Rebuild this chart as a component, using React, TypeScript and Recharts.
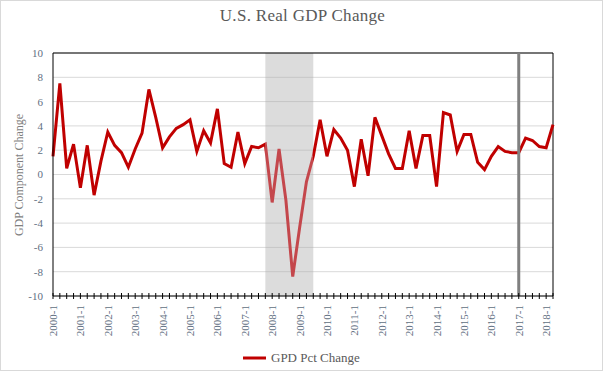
import React from 'react';
import { LineChart, Line, XAxis, YAxis, CartesianGrid, ReferenceArea, ReferenceLine } from 'recharts';

const years = [2000, 2001, 2002, 2003, 2004, 2005, 2006, 2007, 2008, 2009, 2010, 2011, 2012, 2013, 2014, 2015, 2016, 2017, 2018];
const quarters = [1, 2, 3, 4];

const gdp2000 = [1.5, 7.5, 0.5, 2.5];
const gdp2001 = [-1.1, 2.4, -1.7, 1.1];
const gdp2002 = [3.5, 2.4, 1.8, 0.6];
const gdp2003 = [2.1, 3.4, 7.0, 4.7];
const gdp2004 = [2.2, 3.1, 3.8, 4.1];
const gdp2005 = [4.5, 1.9, 3.6, 2.6];
const gdp2006 = [5.4, 0.9, 0.6, 3.5];
const gdp2007 = [0.9, 2.3, 2.2, 2.5];
const gdp2008 = [-2.3, 2.1, -2.1, -8.4];
const gdp2009 = [-4.4, -0.6, 1.5, 4.5];
const gdp2010 = [1.5, 3.7, 3.0, 2.0];
const gdp2011 = [-1.0, 2.9, -0.1, 4.7];
const gdp2012 = [3.2, 1.7, 0.5, 0.5];
const gdp2013 = [3.6, 0.5, 3.2, 3.2];
const gdp2014 = [-1.0, 5.1, 4.9, 1.9];
const gdp2015 = [3.3, 3.3, 1.0, 0.4];
const gdp2016 = [1.5, 2.3, 1.9, 1.8];
const gdp2017 = [1.8, 3.0, 2.8, 2.3];
const gdp2018 = [2.2, 4.1];

const gdpByYear = [gdp2000, gdp2001, gdp2002, gdp2003, gdp2004, gdp2005, gdp2006, gdp2007, gdp2008, gdp2009,
  gdp2010, gdp2011, gdp2012, gdp2013, gdp2014, gdp2015, gdp2016, gdp2017, gdp2018];

const yTicks = [-10, -8, -6, -4, -2, 0, 2, 4, 6, 8, 10];

const recessionStart = '2007-4';
const recessionEnd = '2009-3';
const markerQuarter = '2017-1';
const seriesName = 'GPD Pct Change';
const title = 'U.S. Real GDP Change';
const yLabel = 'GDP Component Change';

const data: { q: string; v: number }[] = [];
years.forEach((y, i) => {
  gdpByYear[i].forEach((v, j) => {
    data.push({ q: `${y}-${quarters[j]}`, v });
  });
});
const lastQuarter = data[data.length - 1].q;

const FONT = '"Liberation Serif", "Times New Roman", serif';
const TICK_COLOR = '#5f6f82';
const LINE_RED = '#c00000';
const LINE_SHADED = '#c4474c';

const CHART_W = 605;
const CHART_H = 379;
const MARGIN = { top: 53, right: 52, left: 13, bottom: 0 };
const Y_AXIS_W = 40;
const plotLeft = MARGIN.left + Y_AXIS_W;
const plotRight = CHART_W - MARGIN.right;

const idxStart = data.findIndex((d) => d.q === recessionStart);
const idxEnd = data.findIndex((d) => d.q === recessionEnd);
const offStart = idxStart / (data.length - 1);
const offEnd = idxEnd / (data.length - 1);

const XTick = (props: any) => {
  const { x, y, payload } = props;
  const label: string = payload.value;
  const showLabel = label.endsWith('-1');
  return (
    <g>
      <line x1={x} x2={x} y1={y - 3} y2={y + 3} stroke="#000" strokeWidth={1} />
      {showLabel && (
        <text
          transform={`translate(${x + 4},${y + 9}) rotate(-90)`}
          textAnchor="end"
          fontSize={11}
          fontFamily={FONT}
          fill={TICK_COLOR}
        >
          {label}
        </text>
      )}
    </g>
  );
};

export default function App() {
  return (
    <div style={{ position: 'absolute', left: 0, top: 0, width: CHART_W, height: CHART_H, background: '#fff' }}>
      <div style={{ position: 'absolute', left: 0, top: 0, width: 603, height: 371, border: '1px solid #d9d9d9', boxSizing: 'border-box' }} />
      <div style={{ position: 'absolute', left: 0, top: 6, width: CHART_W, textAlign: 'center', fontFamily: FONT, fontSize: 17, color: '#595959', letterSpacing: 0.3 }}>
        {title}
      </div>
      <div style={{ position: 'absolute', left: 19, top: 175, transform: 'translate(-50%,-50%) rotate(-90deg)', whiteSpace: 'nowrap', fontFamily: FONT, fontSize: 12, color: '#7f7f7f' }}>
        {yLabel}
      </div>
      <LineChart width={CHART_W} height={CHART_H} data={data} margin={MARGIN}>
        <defs>
          <linearGradient id="gdpStroke" gradientUnits="userSpaceOnUse" x1={plotLeft} x2={plotRight} y1={0} y2={0}>
            <stop offset={0} stopColor={LINE_RED} />
            <stop offset={offStart} stopColor={LINE_RED} />
            <stop offset={offStart} stopColor={LINE_SHADED} />
            <stop offset={offEnd} stopColor={LINE_SHADED} />
            <stop offset={offEnd} stopColor={LINE_RED} />
            <stop offset={1} stopColor={LINE_RED} />
          </linearGradient>
        </defs>
        <CartesianGrid horizontal vertical={false} stroke="#d9d9d9" />
        <ReferenceArea x1={recessionStart} x2={recessionEnd} fill="#aaaaaa" fillOpacity={0.41} stroke="none" />
        <XAxis
          dataKey="q"
          interval={0}
          tickSize={0}
          tickMargin={0}
          tickLine={false}
          tick={<XTick />}
          axisLine={{ stroke: '#000' }}
          height={83}
        />
        <YAxis
          domain={[-10, 10]}
          ticks={yTicks}
          interval={0}
          width={Y_AXIS_W}
          tickLine={false}
          tickSize={0}
          tickMargin={10}
          axisLine={{ stroke: '#000' }}
          tick={{ fill: TICK_COLOR, fontSize: 11, fontFamily: FONT }}
          allowDataOverflow
        />
        <ReferenceLine y={10} stroke="#000" />
        <ReferenceLine x={lastQuarter} stroke="#000" />
        <Line type="linear" dataKey="v" stroke="url(#gdpStroke)" strokeWidth={3} dot={false} isAnimationActive={false} />
        <ReferenceLine x={markerQuarter} stroke="#808080" strokeWidth={3} />
      </LineChart>
      <div style={{ position: 'absolute', left: 243, top: 349, height: 18, display: 'flex', alignItems: 'center', fontFamily: FONT, fontSize: 13, color: '#595959' }}>
        <svg width={23} height={6} style={{ marginRight: 5 }}>
          <line x1={0} x2={23} y1={3} y2={3} stroke={LINE_RED} strokeWidth={3} />
        </svg>
        <span>{seriesName}</span>
      </div>
    </div>
  );
}
